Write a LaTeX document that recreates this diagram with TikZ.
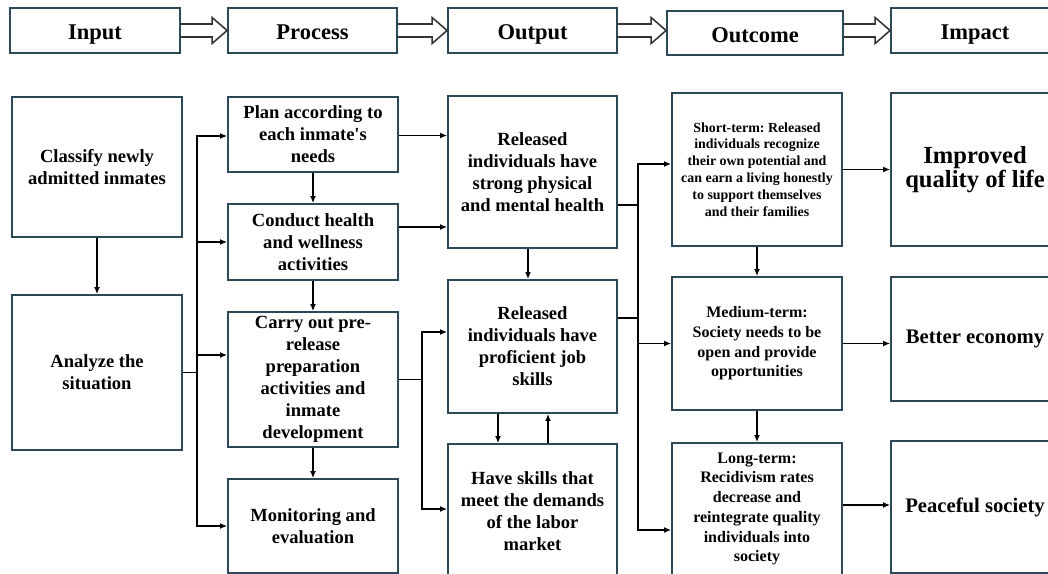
\documentclass[tikz,border=0pt]{standalone}
\usepackage{fontspec}
\setmainfont{Liberation Serif}
\usetikzlibrary{arrows.meta,calc}
\definecolor{boxline}{HTML}{2F4858}
\definecolor{arrowline}{HTML}{333333}
\frenchspacing

\newcommand{\hollowarrow}[2]{%
    \draw[hollowline]
        ($(#1.east |- headmid)+(0,-6.5)$) -- ($(#2.west |- headmid)+(-15,-6.5)$)
        -- ($(#2.west |- headmid)+(-15,-13)$) -- (#2.west |- headmid)
        -- ($(#2.west |- headmid)+(-15,13)$) -- ($(#2.west |- headmid)+(-15,6.5)$)
        -- ($(#1.east |- headmid)+(0,6.5)$);}

\begin{document}
\begin{tikzpicture}[
        x=0.25mm, y=-0.25mm,
        headbox/.style={draw=boxline, line width=1.3pt, fill=white, align=center,
            text height=14pt, text depth=0.5pt,
            font=\bfseries\fontsize{16}{18}\selectfont},
        box/.style={draw=boxline, line width=1.3pt, fill=white, align=center, inner sep=2pt,
            font=\bfseries\fontsize{13.2}{15.6}\selectfont},
        smallbox/.style={box, font=\bfseries\fontsize{9.9}{12}\selectfont},
        midbox/.style={box, font=\bfseries\fontsize{11.4}{14}\selectfont},
        bigbox/.style={box, font=\bfseries\fontsize{14.7}{17}\selectfont},
        hollowline/.style={draw=arrowline, line width=1.1pt, line join=miter},
        link/.style={-{Latex[length=5pt,width=4.2pt]}, line width=0.9pt},
        bus/.style={line width=0.9pt}
    ]
        \clip (0,0) rectangle (1048,574);
        \coordinate (headmid) at (0,30.5);

        \node[headbox, minimum width=42.5mm, minimum height=11.25mm]
            (input) at (95,30.5) {Input};
        \node[headbox, minimum width=42.25mm, minimum height=11.25mm]
            (process) at (312.5,30.5) {Process};
        \node[headbox, minimum width=42.25mm, minimum height=11.25mm]
            (output) at (532.5,30.5) {Output};
        \node[headbox, minimum width=44mm, minimum height=11mm]
            (outcome) at (755,33) {Outcome};
        \node[headbox, minimum width=42mm, minimum height=11.25mm]
            (impact) at (975,30.5) {Impact};

        \hollowarrow{input}{process}
        \hollowarrow{process}{output}
        \hollowarrow{output}{outcome}
        \hollowarrow{outcome}{impact}

        \node[box, minimum width=42.5mm, minimum height=35mm]
            (classify) at (97,167) {Classify newly\\admitted inmates};
        \node[box, minimum width=42.5mm, minimum height=38.75mm]
            (analyze) at (97,372.5) {Analyze the\\situation};

        \node[box, minimum width=42.5mm, minimum height=18.75mm]
            (plan) at (313,134.5) {Plan according to\\each inmate\textquotesingle s\\needs};
        \node[box, minimum width=42.5mm, minimum height=19mm]
            (conduct) at (313,242) {Conduct health\\and wellness\\activities};
        \node[box, minimum width=42.5mm, minimum height=33.75mm]
            (carry) at (313,379.5) {Carry out pre-\\release\\preparation\\activities and\\inmate\\development};
        \node[box, minimum width=42.5mm, minimum height=23.5mm]
            (monitor) at (313,526) {Monitoring and\\evaluation};

        \node[box, minimum width=42.25mm, minimum height=38mm]
            (health) at (532.5,172) {Released\\individuals have\\strong physical\\and mental health};
        \node[box, minimum width=42.25mm, minimum height=33.25mm]
            (jobskill) at (532.5,346.5) {Released\\individuals have\\proficient job\\skills};
        \node[box, minimum width=42.25mm, minimum height=33.5mm]
            (market) at (532.5,511) {Have skills that\\meet the demands\\of the labor\\market};

        \node[smallbox, minimum width=42.5mm, minimum height=38.25mm]
            (short) at (757,169.5) {Short-term: Released\\individuals recognize\\their own potential and\\can earn a living honestly\\to support themselves\\and their families};
        \node[midbox, minimum width=42.5mm, minimum height=33.25mm]
            (medium) at (757,343.5) {Medium-term:\\Society needs to be\\open and provide\\opportunities};
        \node[midbox, minimum width=42.5mm, minimum height=33mm]
            (long) at (757,509) {Long-term:\\Recidivism rates\\decrease and\\reintegrate quality\\individuals into\\society};

        \node[box, minimum width=42mm, minimum height=38.25mm, font=\bfseries\fontsize{17.5}{17}\selectfont]
            (improved) at (975,169.5) {Improved\\quality of life};
        \node[bigbox, minimum width=42mm, minimum height=31mm]
            (better) at (975,339) {Better economy};
        \node[bigbox, minimum width=42mm, minimum height=33mm]
            (peaceful) at (975,507) {Peaceful society};

        \draw[link] (classify) -- (analyze);
        \draw[link] (plan) -- (conduct);
        \draw[link] (conduct) -- (carry);
        \draw[link] (carry) -- (monitor);
        \draw[link] ($(health.south)+(-4.5,0)$) -- ($(jobskill.north)+(-4.5,0)$);
        \draw[link] ($(jobskill.south)+(-34.5,0)$) -- ($(market.north)+(-34.5,0)$);
        \draw[link] ($(market.north)+(15.5,0)$) -- ($(jobskill.south)+(15.5,0)$);
        \draw[link] (short) -- (medium);
        \draw[link] (medium) -- (long);

        \coordinate (lbus) at (197,372.5);
        \draw[bus] (analyze.east) -- (lbus);
        \draw[link] (lbus) |- ($(plan.west)+(0,1.5)$);
        \draw[link] (lbus) |- (conduct.west);
        \draw[link] (lbus) |- ($(carry.west)+(0,-24.5)$);
        \draw[link] (lbus) |- (monitor.west);

        \draw[link] ($(plan.east)+(0,1)$) coordinate (pe) -- (pe -| health.west);
        \draw[link] ($(conduct.east)+(0,-15)$) coordinate (ce) -- (ce -| health.west);

        \coordinate (mbus) at (422,379.5);
        \draw[bus] (carry.east) -- (mbus);
        \draw[link] (mbus) |- ($(jobskill.west)+(0,-14.5)$);
        \draw[link] (mbus) |- ($(market.west)+(0,-2)$);

        \coordinate (obus) at (638,318);
        \draw[bus] ($(health.east)+(0,33)$) coordinate (he) -- (he -| obus);
        \draw[bus] ($(jobskill.east)+(0,-28.5)$) -- (obus);
        \draw[link] (obus) |- ($(short.west)+(0,-5.5)$);
        \draw[link] (obus) |- (medium.west);
        \draw[link] (obus) |- ($(long.west)+(0,21)$);

        \draw[link] (short) -- (improved);
        \draw[link] (medium.east) -- (medium.east -| better.west);
        \draw[link] ($(long.east)+(0,-4)$) coordinate (le) -- (le -| peaceful.west);
    \end{tikzpicture}
\end{document}
